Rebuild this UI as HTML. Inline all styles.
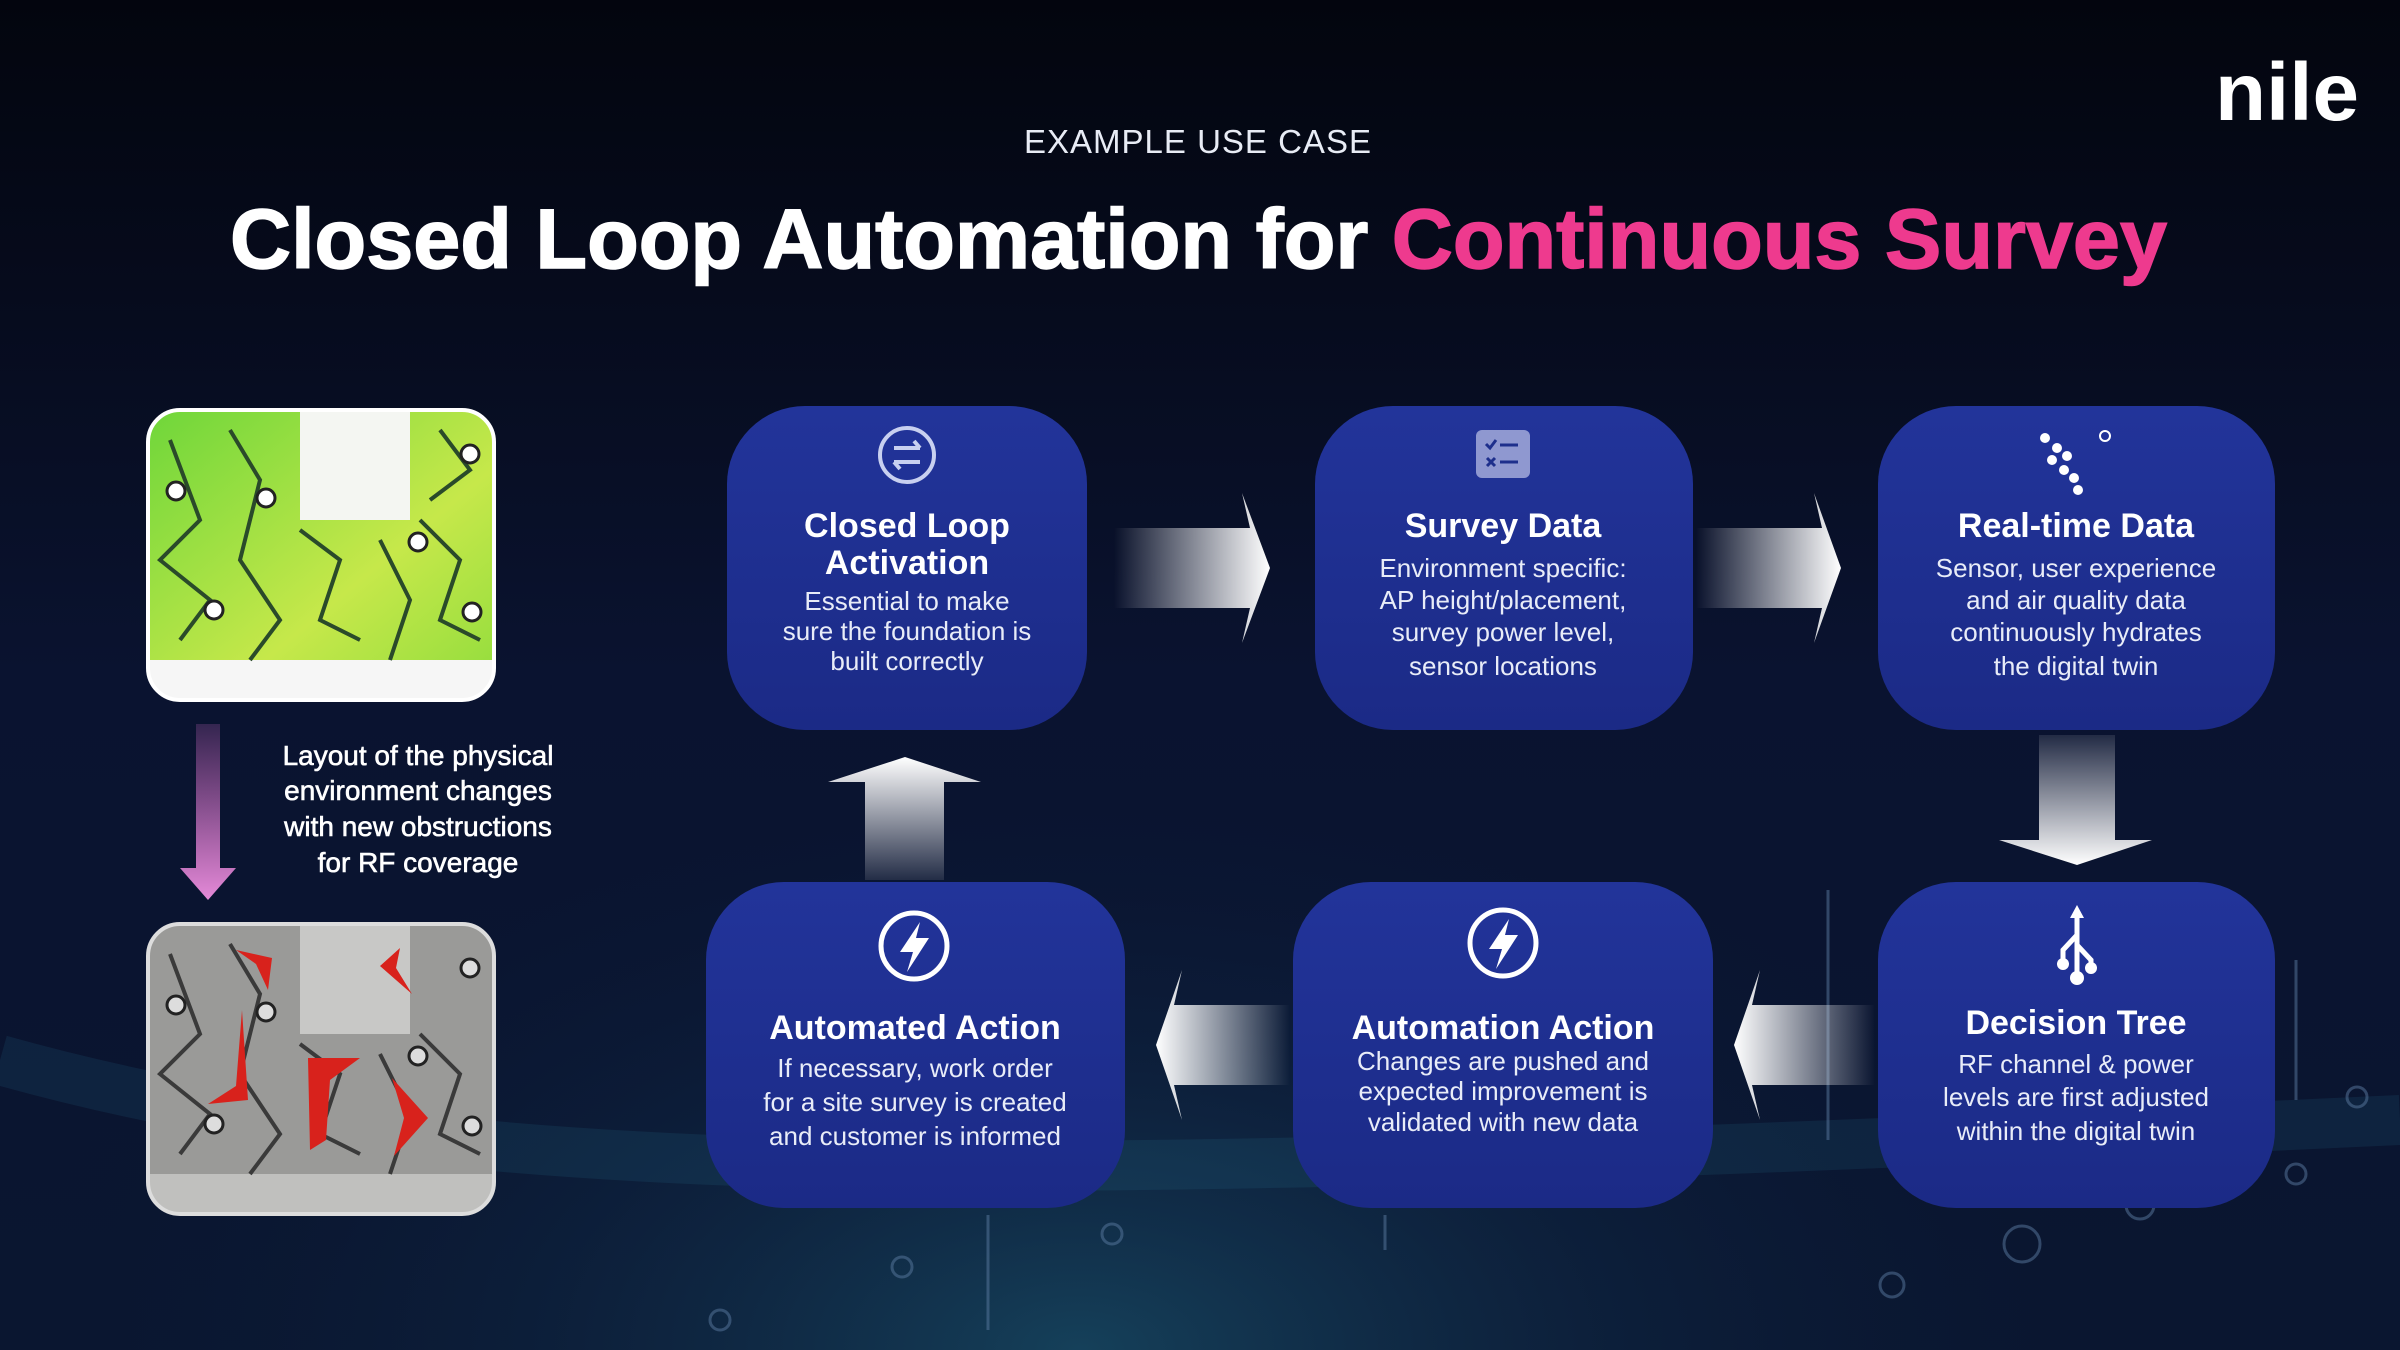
<!DOCTYPE html>
<html><head><meta charset="utf-8"><style>
html,body{margin:0;padding:0;background:#050818;}
svg{display:block}
</style></head><body>
<svg width="2400" height="1350" viewBox="0 0 2400 1350" xmlns="http://www.w3.org/2000/svg" font-family="Liberation Sans, sans-serif">
<defs>
<linearGradient id="bg" x1="0" y1="0" x2="0" y2="1">
<stop offset="0" stop-color="#03050e"/><stop offset="0.5" stop-color="#0a1330"/><stop offset="1" stop-color="#0a1630"/>
</linearGradient>
<radialGradient id="glow" cx="0.45" cy="1" r="0.45">
<stop offset="0" stop-color="#2a8fa8" stop-opacity="0.35"/><stop offset="0.5" stop-color="#1a5070" stop-opacity="0.15"/><stop offset="1" stop-color="#0a1530" stop-opacity="0"/>
</radialGradient>
<linearGradient id="box" x1="0" y1="0" x2="0" y2="1">
<stop offset="0" stop-color="#22349a"/><stop offset="1" stop-color="#1b2a86"/>
</linearGradient>
<linearGradient id="ar" x1="0" y1="0" x2="1" y2="0"><stop offset="0" stop-color="#fff" stop-opacity="0"/><stop offset="1" stop-color="#fff"/></linearGradient>
<linearGradient id="al" x1="1" y1="0" x2="0" y2="0"><stop offset="0" stop-color="#fff" stop-opacity="0"/><stop offset="1" stop-color="#fff"/></linearGradient>
<linearGradient id="ad" x1="0" y1="0" x2="0" y2="1"><stop offset="0" stop-color="#fff" stop-opacity="0.1"/><stop offset="1" stop-color="#fff"/></linearGradient>
<linearGradient id="au" x1="0" y1="1" x2="0" y2="0"><stop offset="0" stop-color="#fff" stop-opacity="0.1"/><stop offset="1" stop-color="#fff"/></linearGradient>
<linearGradient id="pink" x1="0" y1="0" x2="0" y2="1"><stop offset="0" stop-color="#e070d0" stop-opacity="0.2"/><stop offset="1" stop-color="#e58ad8"/></linearGradient>
<linearGradient id="green" x1="0" y1="0" x2="1" y2="1"><stop offset="0" stop-color="#6ed63a"/><stop offset="0.6" stop-color="#c6e84a"/><stop offset="1" stop-color="#8fdc3c"/></linearGradient>
<clipPath id="c1"><rect x="148" y="410" width="346" height="290" rx="32"/></clipPath>
<clipPath id="c2"><rect x="148" y="924" width="346" height="290" rx="32"/></clipPath>
</defs>
<rect width="2400" height="1350" fill="url(#bg)"/>
<rect width="2400" height="1350" fill="url(#glow)"/>
<path d="M0 1060 C500 1200 1100 1180 2400 1120" stroke="#3aa7c0" stroke-opacity="0.1" stroke-width="50" fill="none"/>
<g stroke="#5a7aa0" stroke-opacity="0.5" fill="none" stroke-width="3">
<circle cx="1112" cy="1234" r="10"/><circle cx="902" cy="1267" r="10"/><circle cx="720" cy="1320" r="10"/><circle cx="2022" cy="1244" r="18"/><circle cx="1892" cy="1285" r="12"/><circle cx="2296" cy="1174" r="10"/><circle cx="2357" cy="1097" r="10"/><circle cx="2140" cy="1205" r="14"/>
<line x1="1828" y1="890" x2="1828" y2="1140"/><line x1="2296" y1="960" x2="2296" y2="1100"/><line x1="988" y1="1215" x2="988" y2="1330"/><line x1="1385" y1="1215" x2="1385" y2="1250"/>
</g>
<text x="1198" y="153" text-anchor="middle" fill="#e8ecf5" font-size="33" letter-spacing="1">EXAMPLE USE CASE</text>
<text x="230" y="268" fill="#ffffff" font-size="84" font-weight="bold" textLength="1937" lengthAdjust="spacingAndGlyphs" stroke="#fff" stroke-width="1.5">Closed Loop Automation for <tspan fill="#ee3a8e" stroke="#ee3a8e">Continuous Survey</tspan></text>
<text x="2215" y="120" fill="#ffffff" font-size="82" font-weight="bold" textLength="144" lengthAdjust="spacingAndGlyphs">nile</text>
<g clip-path="url(#c1)">
<rect x="148" y="410" width="346" height="290" fill="url(#green)"/>
<rect x="300" y="410" width="110" height="110" fill="#f4f6f2"/>
<rect x="148" y="660" width="346" height="40" fill="#f6f6f6"/>
<g stroke="#2a4a2a" stroke-width="4" fill="none">
<path d="M170 440 L200 520 L160 560 L210 600 L180 640"/><path d="M230 430 L260 480 L240 560 L280 620 L250 660"/>
<path d="M300 530 L340 560 L320 620 L360 640"/><path d="M380 540 L410 600 L390 660"/><path d="M420 520 L460 560 L440 620 L480 640"/>
<path d="M440 430 L470 470 L430 500"/>
</g>
<g fill="#fff" stroke="#222" stroke-width="3"><circle cx="176" cy="491" r="9"/><circle cx="266" cy="498" r="9"/><circle cx="418" cy="542" r="9"/><circle cx="214" cy="610" r="9"/><circle cx="472" cy="612" r="9"/><circle cx="470" cy="454" r="9"/></g>
</g>
<rect x="148" y="410" width="346" height="290" rx="32" fill="none" stroke="#fff" stroke-width="4"/>
<g clip-path="url(#c2)">
<rect x="148" y="924" width="346" height="290" fill="#9a9a98"/>
<rect x="300" y="924" width="110" height="110" fill="#c8c8c6"/>
<rect x="148" y="1174" width="346" height="40" fill="#c0c0be"/>
<g stroke="#3a3a3a" stroke-width="4" fill="none">
<path d="M170 954 L200 1034 L160 1074 L210 1114 L180 1154"/><path d="M230 944 L260 994 L240 1074 L280 1134 L250 1174"/>
<path d="M300 1044 L340 1074 L320 1134 L360 1154"/><path d="M380 1054 L410 1114 L390 1174"/><path d="M420 1034 L460 1074 L440 1134 L480 1154"/>
</g>
<g fill="#d8221c">
<path d="M236 950 L272 958 L268 990 L256 964 Z"/><path d="M400 948 L380 966 L412 994 L396 968 Z"/>
<path d="M242 1010 L248 1100 L208 1104 L236 1086 Z"/><path d="M308 1058 L360 1058 L330 1080 L326 1140 L310 1150 Z"/>
<path d="M392 1078 L428 1118 L394 1156 L404 1118 Z"/>
</g>
<g fill="#ddd" stroke="#222" stroke-width="3"><circle cx="176" cy="1005" r="9"/><circle cx="266" cy="1012" r="9"/><circle cx="418" cy="1056" r="9"/><circle cx="214" cy="1124" r="9"/><circle cx="472" cy="1126" r="9"/><circle cx="470" cy="968" r="9"/></g>
</g>
<rect x="148" y="924" width="346" height="290" rx="32" fill="none" stroke="#ddd" stroke-width="4"/>
<path d="M196 724 L220 724 L220 868 L236 868 L208 900 L180 868 L196 868 Z" fill="url(#pink)"/>
<g fill="#fff" font-size="28" text-anchor="middle" stroke="#fff" stroke-width="0.6">
<text x="418" y="765">Layout of the physical</text><text x="418" y="800">environment changes</text><text x="418" y="836">with new obstructions</text><text x="418" y="872">for RF coverage</text>
</g>
<path d="M1114 528 L1250 528 L1242 493 L1270 568 L1242 643 L1250 608 L1114 608 Z" fill="url(#ar)"/>
<path d="M1696 528 L1822 528 L1814 493 L1841 568 L1814 643 L1822 608 L1696 608 Z" fill="url(#ar)"/>
<path d="M2039 735 L2115 735 L2115 840 L2152 840 L2077 865 L1999 840 L2039 840 Z" fill="url(#ad)"/>
<path d="M1875 1005 L1752 1005 L1760 970 L1734 1045 L1760 1120 L1752 1085 L1875 1085 Z" fill="url(#al)"/>
<path d="M1290 1005 L1174 1005 L1182 970 L1156 1045 L1182 1120 L1174 1085 L1290 1085 Z" fill="url(#al)"/>
<path d="M865 880 L944 880 L944 782 L981 782 L905 757 L828 782 L865 782 Z" fill="url(#au)"/>
<g fill="url(#box)">
<rect x="727" y="406" width="360" height="324" rx="78"/>
<rect x="1315" y="406" width="378" height="324" rx="78"/>
<rect x="1878" y="406" width="397" height="324" rx="78"/>
<rect x="706" y="882" width="419" height="326" rx="78"/>
<rect x="1293" y="882" width="420" height="326" rx="78"/>
<rect x="1878" y="882" width="397" height="326" rx="78"/>
</g>
<g stroke="#c8d0f0" fill="none" stroke-width="4">
<circle cx="907" cy="455" r="27"/>
<path d="M894 448 L920 448 M914 441 L920 448 M920 462 L894 462 M900 469 L894 462"/>
</g>
<rect x="1476" y="430" width="54" height="48" rx="6" fill="#8f98d0"/>
<g stroke="#1e2f8c" stroke-width="3" fill="none"><path d="M1486 444 L1490 448 L1496 440 M1500 445 L1518 445 M1487 458 L1495 466 M1495 458 L1487 466 M1500 462 L1518 462"/></g>
<g fill="#fff"><circle cx="2045" cy="438" r="5"/><circle cx="2057" cy="448" r="5"/><circle cx="2067" cy="456" r="5"/><circle cx="2052" cy="460" r="5"/><circle cx="2064" cy="470" r="5"/><circle cx="2074" cy="478" r="5"/><circle cx="2078" cy="490" r="5"/></g>
<circle cx="2105" cy="436" r="5" stroke="#fff" stroke-width="2" fill="none"/>
<g stroke="#fff" stroke-width="5" fill="none">
<circle cx="914" cy="946" r="33"/><circle cx="1503" cy="943" r="33"/>
</g>
<g fill="#fff"><path d="M920 922 L900 952 L913 952 L907 972 L929 938 L916 938 Z"/><path d="M1509 919 L1489 949 L1502 949 L1496 969 L1518 935 L1505 935 Z"/></g>
<g stroke="#fff" stroke-width="5" fill="none"><path d="M2077 912 L2077 975 M2077 935 L2063 950 L2063 962 M2077 945 L2091 960 L2091 966"/></g>
<g fill="#fff"><path d="M2077 905 L2084 918 L2070 918 Z"/><circle cx="2077" cy="978" r="7"/><circle cx="2063" cy="964" r="6"/><circle cx="2091" cy="968" r="6"/></g>
<g fill="#fff" text-anchor="middle" font-weight="bold" font-size="34">
<text x="907" y="537">Closed Loop</text><text x="907" y="574">Activation</text>
<text x="1503" y="537">Survey Data</text>
<text x="2076" y="537">Real-time Data</text>
<text x="915" y="1039">Automated Action</text>
<text x="1503" y="1039">Automation Action</text>
<text x="2076" y="1034">Decision Tree</text>
</g>
<g fill="#e8ecf8" text-anchor="middle" font-size="26">
<text x="907" y="610">Essential to make</text><text x="907" y="640">sure the foundation is</text><text x="907" y="670">built correctly</text>
<text x="1503" y="577">Environment specific:</text><text x="1503" y="609">AP height/placement,</text><text x="1503" y="641">survey power level,</text><text x="1503" y="675">sensor locations</text>
<text x="2076" y="577">Sensor, user experience</text><text x="2076" y="609">and air quality data</text><text x="2076" y="641">continuously hydrates</text><text x="2076" y="675">the digital twin</text>
<text x="915" y="1077">If necessary, work order</text><text x="915" y="1111">for a site survey is created</text><text x="915" y="1145">and customer is informed</text>
<text x="1503" y="1070">Changes are pushed and</text><text x="1503" y="1100">expected improvement is</text><text x="1503" y="1131">validated with new data</text>
<text x="2076" y="1073">RF channel &amp; power</text><text x="2076" y="1106">levels are first adjusted</text><text x="2076" y="1140">within the digital twin</text>
</g>
</svg>
</body></html>
